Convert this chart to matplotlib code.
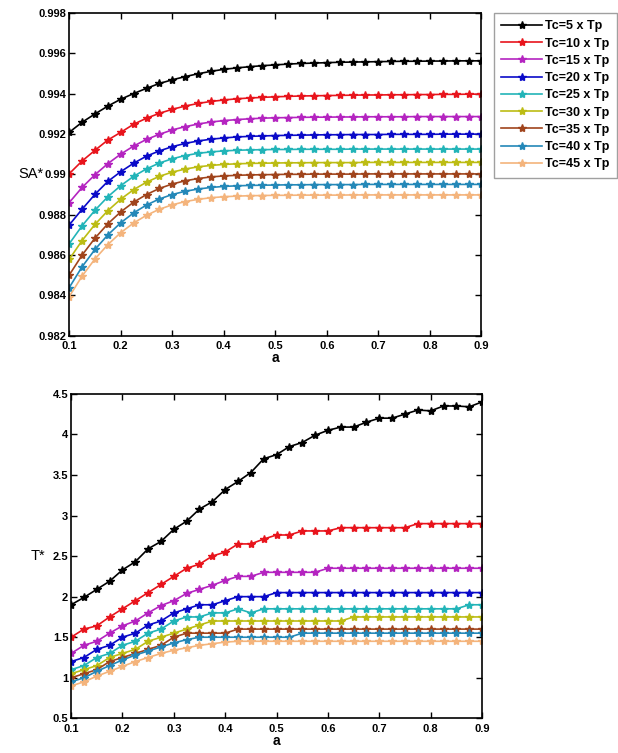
import matplotlib
matplotlib.use("Agg")
import matplotlib.pyplot as plt

a = [0.1, 0.125, 0.15, 0.175, 0.2, 0.225, 0.25, 0.275, 0.3, 0.325, 0.35,
     0.375, 0.4, 0.425, 0.45, 0.475, 0.5, 0.525, 0.55, 0.575, 0.6, 0.625,
     0.65, 0.675, 0.7, 0.725, 0.75, 0.775, 0.8, 0.825, 0.85, 0.875, 0.9]

labels = ["Tc=5 x Tp", "Tc=10 x Tp", "Tc=15 x Tp", "Tc=20 x Tp", "Tc=25 x Tp",
          "Tc=30 x Tp", "Tc=35 x Tp", "Tc=40 x Tp", "Tc=45 x Tp"]
colors = ["#000000", "#e8141c", "#b424c0", "#0a0ac8", "#22b4b8",
          "#bcbc14", "#a0441c", "#2488b8", "#f4b47c"]

# SA* (top panel)
sa_5 = [0.99208, 0.99258, 0.99299, 0.99338, 0.99372, 0.99400, 0.99426, 0.99450, 0.99468, 0.99484, 0.99498,
        0.99510, 0.99520, 0.99527, 0.99533, 0.99538, 0.99542, 0.99546, 0.99549, 0.99551, 0.99553, 0.99555,
        0.99556, 0.99557, 0.99558, 0.99559, 0.99560, 0.99560, 0.99561, 0.99561, 0.99562, 0.99562, 0.99562]
sa_10 = [0.99003, 0.99066, 0.99119, 0.99170, 0.99208, 0.99248, 0.99278, 0.99302, 0.99322, 0.99338, 0.99351,
         0.99361, 0.99368, 0.99374, 0.99378, 0.99381, 0.99384, 0.99386, 0.99388, 0.99389, 0.99390, 0.99391,
         0.99392, 0.99393, 0.99393, 0.99394, 0.99394, 0.99395, 0.99395, 0.99396, 0.99396, 0.99397, 0.99397]
sa_15 = [0.98860, 0.98935, 0.98998, 0.99053, 0.99100, 0.99140, 0.99173, 0.99198, 0.99220, 0.99236, 0.99249,
         0.99259, 0.99266, 0.99271, 0.99275, 0.99278, 0.99280, 0.99281, 0.99282, 0.99283, 0.99283, 0.99284,
         0.99284, 0.99285, 0.99285, 0.99285, 0.99285, 0.99286, 0.99286, 0.99286, 0.99286, 0.99286, 0.99286]
sa_20 = [0.98749, 0.98827, 0.98901, 0.98965, 0.99013, 0.99055, 0.99090, 0.99116, 0.99137, 0.99153, 0.99165,
         0.99174, 0.99180, 0.99185, 0.99188, 0.99190, 0.99192, 0.99193, 0.99194, 0.99195, 0.99196, 0.99196,
         0.99197, 0.99197, 0.99197, 0.99198, 0.99198, 0.99198, 0.99198, 0.99199, 0.99199, 0.99199, 0.99199]
sa_25 = [0.98656, 0.98745, 0.98822, 0.98889, 0.98944, 0.98990, 0.99027, 0.99056, 0.99077, 0.99093, 0.99104,
         0.99111, 0.99116, 0.99119, 0.99121, 0.99122, 0.99123, 0.99123, 0.99124, 0.99124, 0.99124, 0.99124,
         0.99125, 0.99125, 0.99125, 0.99125, 0.99125, 0.99125, 0.99125, 0.99125, 0.99125, 0.99125, 0.99125]
sa_30 = [0.98579, 0.98672, 0.98752, 0.98820, 0.98877, 0.98924, 0.98961, 0.98990, 0.99011, 0.99026, 0.99037,
         0.99044, 0.99049, 0.99052, 0.99054, 0.99055, 0.99056, 0.99057, 0.99057, 0.99058, 0.99058, 0.99058,
         0.99058, 0.99059, 0.99059, 0.99059, 0.99059, 0.99059, 0.99059, 0.99059, 0.99059, 0.99059, 0.99059]
sa_35 = [0.98501, 0.98600, 0.98684, 0.98755, 0.98814, 0.98862, 0.98900, 0.98930, 0.98952, 0.98968, 0.98979,
         0.98987, 0.98992, 0.98995, 0.98997, 0.98998, 0.98999, 0.99000, 0.99000, 0.99001, 0.99001, 0.99001,
         0.99001, 0.99002, 0.99002, 0.99002, 0.99002, 0.99002, 0.99002, 0.99002, 0.99002, 0.99002, 0.99002]
sa_40 = [0.98439, 0.98542, 0.98628, 0.98700, 0.98760, 0.98809, 0.98848, 0.98878, 0.98900, 0.98916, 0.98927,
         0.98935, 0.98940, 0.98943, 0.98945, 0.98946, 0.98947, 0.98948, 0.98948, 0.98949, 0.98949, 0.98949,
         0.98949, 0.98950, 0.98950, 0.98950, 0.98950, 0.98950, 0.98950, 0.98950, 0.98950, 0.98950, 0.98950]
sa_45 = [0.98394, 0.98496, 0.98581, 0.98652, 0.98711, 0.98759, 0.98797, 0.98827, 0.98849, 0.98865, 0.98876,
         0.98884, 0.98889, 0.98892, 0.98894, 0.98895, 0.98896, 0.98896, 0.98897, 0.98897, 0.98897, 0.98897,
         0.98898, 0.98898, 0.98898, 0.98898, 0.98898, 0.98898, 0.98898, 0.98898, 0.98898, 0.98898, 0.98898]

# T* (bottom panel)
t_5 = [1.90, 1.99, 2.09, 2.19, 2.33, 2.43, 2.59, 2.68, 2.83, 2.93, 3.08,
       3.17, 3.32, 3.42, 3.53, 3.70, 3.75, 3.85, 3.90, 3.99, 4.05, 4.09,
       4.09, 4.15, 4.20, 4.20, 4.25, 4.30, 4.29, 4.35, 4.35, 4.34, 4.40]
t_10 = [1.50, 1.60, 1.64, 1.75, 1.85, 1.95, 2.05, 2.15, 2.25, 2.35, 2.40,
        2.50, 2.55, 2.65, 2.65, 2.71, 2.76, 2.76, 2.81, 2.81, 2.81, 2.85,
        2.85, 2.85, 2.85, 2.85, 2.85, 2.90, 2.90, 2.90, 2.90, 2.90, 2.90]
t_15 = [1.30, 1.40, 1.45, 1.55, 1.64, 1.70, 1.80, 1.89, 1.95, 2.04, 2.09,
        2.14, 2.20, 2.25, 2.25, 2.30, 2.30, 2.30, 2.30, 2.30, 2.35, 2.35,
        2.35, 2.35, 2.35, 2.35, 2.35, 2.35, 2.35, 2.35, 2.35, 2.35, 2.35]
t_20 = [1.20, 1.25, 1.35, 1.40, 1.50, 1.55, 1.65, 1.70, 1.80, 1.85, 1.90,
        1.90, 1.95, 2.00, 2.00, 2.00, 2.05, 2.05, 2.05, 2.05, 2.05, 2.05,
        2.05, 2.05, 2.05, 2.05, 2.05, 2.05, 2.05, 2.05, 2.05, 2.05, 2.05]
t_25 = [1.10, 1.15, 1.25, 1.30, 1.40, 1.45, 1.55, 1.60, 1.70, 1.75, 1.75,
        1.80, 1.80, 1.85, 1.80, 1.85, 1.85, 1.85, 1.85, 1.85, 1.85, 1.85,
        1.85, 1.85, 1.85, 1.85, 1.85, 1.85, 1.85, 1.85, 1.85, 1.90, 1.90]
t_30 = [1.05, 1.10, 1.15, 1.25, 1.30, 1.35, 1.45, 1.50, 1.55, 1.60, 1.65,
        1.70, 1.70, 1.70, 1.70, 1.70, 1.70, 1.70, 1.70, 1.70, 1.70, 1.70,
        1.75, 1.75, 1.75, 1.75, 1.75, 1.75, 1.75, 1.75, 1.75, 1.75, 1.75]
t_35 = [1.00, 1.05, 1.10, 1.20, 1.25, 1.30, 1.35, 1.40, 1.50, 1.55, 1.55,
        1.55, 1.55, 1.60, 1.60, 1.60, 1.60, 1.60, 1.60, 1.60, 1.60, 1.60,
        1.60, 1.60, 1.60, 1.60, 1.60, 1.60, 1.60, 1.60, 1.60, 1.60, 1.60]
t_40 = [0.95, 1.00, 1.08, 1.15, 1.22, 1.28, 1.33, 1.38, 1.43, 1.47, 1.50,
        1.50, 1.50, 1.50, 1.50, 1.50, 1.50, 1.50, 1.55, 1.55, 1.55, 1.55,
        1.55, 1.55, 1.55, 1.55, 1.55, 1.55, 1.55, 1.55, 1.55, 1.55, 1.55]
t_45 = [0.90, 0.95, 1.02, 1.08, 1.14, 1.20, 1.25, 1.30, 1.34, 1.37, 1.40,
        1.42, 1.44, 1.45, 1.45, 1.45, 1.45, 1.45, 1.45, 1.45, 1.45, 1.45,
        1.45, 1.45, 1.45, 1.45, 1.45, 1.45, 1.45, 1.45, 1.45, 1.45, 1.45]

sa_all = [sa_5, sa_10, sa_15, sa_20, sa_25, sa_30, sa_35, sa_40, sa_45]
t_all = [t_5, t_10, t_15, t_20, t_25, t_30, t_35, t_40, t_45]

x_ticks = [0.1, 0.2, 0.3, 0.4, 0.5, 0.6, 0.7, 0.8, 0.9]
sa_ticks = [0.982, 0.984, 0.986, 0.988, 0.99, 0.992, 0.994, 0.996, 0.998]
t_ticks = [0.5, 1, 1.5, 2, 2.5, 3, 3.5, 4, 4.5]

plt.rcParams['font.family'] = ['Liberation Sans', 'DejaVu Sans']

fig = plt.figure(figsize=(6.18, 7.53), dpi=100)
ax1 = fig.add_axes([0.112, 0.554, 0.667, 0.429])
ax2 = fig.add_axes([0.115, 0.046, 0.665, 0.431])


def style(ax, yt, ylab, lab_x):
    ax.set_xlim(0.1, 0.9)
    ax.set_ylim(yt[0], yt[-1])
    ax.set_xticks(x_ticks)
    ax.set_xticklabels(["%g" % v for v in x_ticks])
    ax.set_yticks(yt)
    ax.set_yticklabels(["%g" % v for v in yt])
    ax.tick_params(direction='in', top=True, right=True, length=4, width=1,
                   labelsize=8, pad=2)
    ax.tick_params(axis='x', pad=4)
    for lab in ax.get_xticklabels() + ax.get_yticklabels():
        lab.set_fontweight('bold')
    for s in ax.spines.values():
        s.set_linewidth(1.2)
    ax.set_xlabel("a", fontsize=10, fontweight='bold', labelpad=0)
    ax.set_ylabel(ylab, fontsize=10.5, rotation=0, ha='right', va='center')
    ax.yaxis.set_label_coords(lab_x, 0.5)


for ys, c, lab in zip(sa_all, colors, labels):
    ax1.plot(a, ys, '-', color=c, marker='*', ms=6, lw=1.2, label=lab)
for ys, c in zip(t_all, colors):
    ax2.plot(a, ys, '-', color=c, marker='*', ms=6, lw=1.2)

style(ax1, sa_ticks, "SA*", -0.062)
style(ax2, t_ticks, "T*", -0.062)

handles, labs = ax1.get_legend_handles_labels()
leg = fig.legend(handles, labs, loc='upper right', bbox_to_anchor=(0.998, 0.983),
                 fontsize=9, frameon=True, fancybox=False, edgecolor='#888888',
                 handlelength=3.3, borderpad=0.6, labelspacing=0.42,
                 handletextpad=0.2, borderaxespad=0)
for t in leg.get_texts():
    t.set_fontweight('bold')

fig.savefig("out.png", dpi=100)
